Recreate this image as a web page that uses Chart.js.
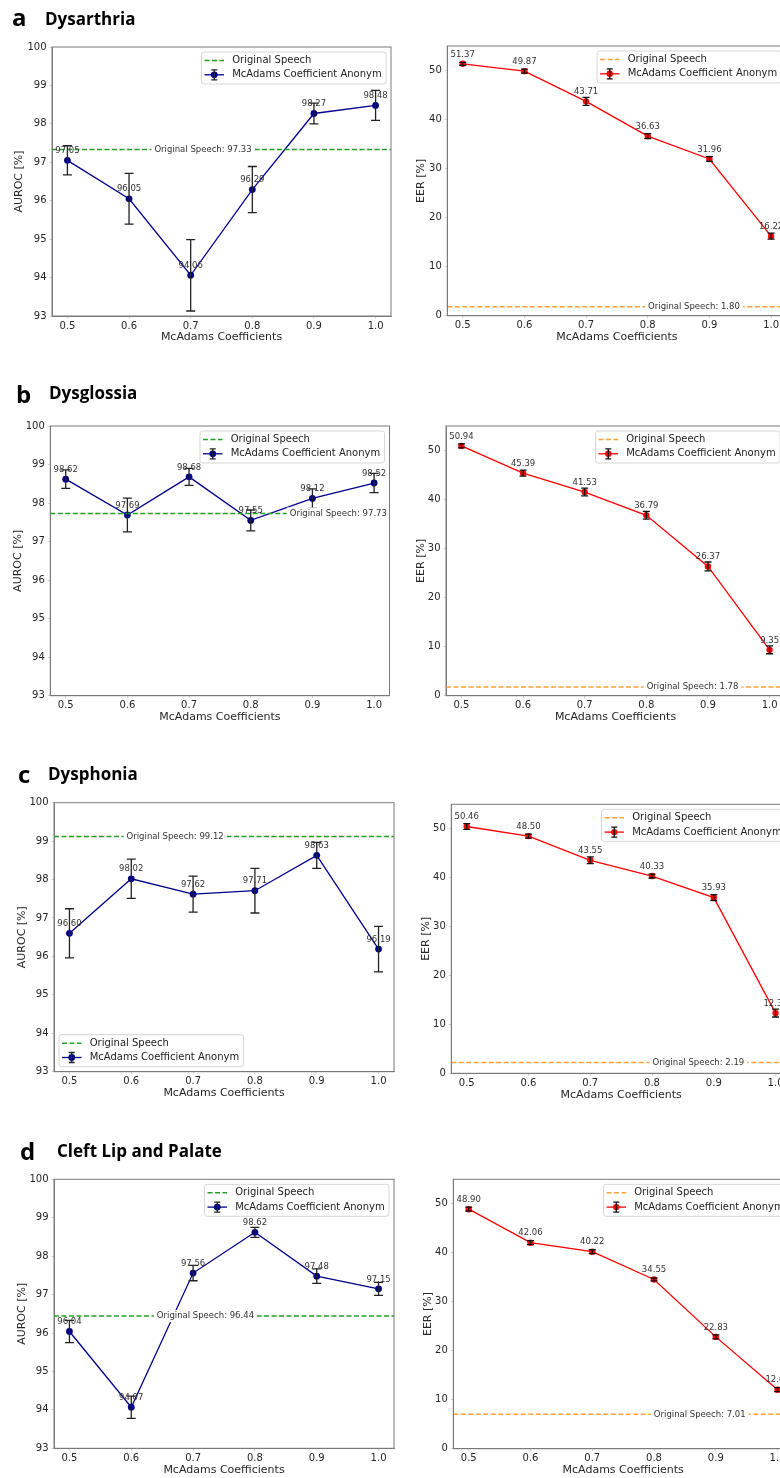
<!DOCTYPE html>
<html>
<head>
<meta charset="utf-8">
<script src="https://cdn.jsdelivr.net/npm/chart.js@4.4.1/dist/chart.umd.min.js"></script>
<style>
  html, body { margin: 0; padding: 0; background: #fff; overflow: hidden; }
  #wrap { position: relative; width: 780px; height: 1478px; overflow: hidden; background: #fff; }
  .tag { position: absolute; font-family: 'Open Sans', sans-serif; font-weight: 700; color: #000; line-height: 1; white-space: nowrap; }
  .letter { font-size: 24px; }
  .name { font-size: 17px; }
</style>
</head>
<body>
<div id="wrap">
  <div class="tag letter" style="left:12px;top:5px">a</div>
  <div class="tag name" style="left:45px;top:10px">Dysarthria</div>
  <div class="tag letter" style="left:16px;top:382px">b</div>
  <div class="tag name" style="left:49px;top:384px">Dysglossia</div>
  <div class="tag letter" style="left:18px;top:762px">c</div>
  <div class="tag name" style="left:48px;top:765px">Dysphonia</div>
  <div class="tag letter" style="left:20px;top:1139px">d</div>
  <div class="tag name" style="left:57px;top:1142px">Cleft Lip and Palate</div>
</div>
<script>
const FONT = "'DejaVu Sans', sans-serif";

// McAdams coefficients on the x axis
const coefficients = [0.5, 0.6, 0.7, 0.8, 0.9, 1.0];
const aurocTicks = [93, 94, 95, 96, 97, 98, 99, 100];
const eerTicks = [0, 10, 20, 30, 40, 50];

// Dysarthria
const dysarthriaAuroc = [97.05, 96.05, 94.06, 96.29, 98.27, 98.48];
const dysarthriaAurocErr = [0.38, 0.66, 0.93, 0.60, 0.27, 0.39];
const dysarthriaAurocOriginal = 97.33;
const dysarthriaEer = [51.37, 49.87, 43.71, 36.63, 31.96, 16.22];
const dysarthriaEerErr = [0.3, 0.4, 0.8, 0.5, 0.5, 0.6];
const dysarthriaEerOriginal = 1.80;

// Dysglossia
const dysglossiaAuroc = [98.62, 97.69, 98.68, 97.55, 98.12, 98.52];
const dysglossiaAurocErr = [0.24, 0.44, 0.22, 0.27, 0.25, 0.25];
const dysglossiaAurocOriginal = 97.73;
const dysglossiaEer = [50.94, 45.39, 41.53, 36.79, 26.37, 9.35];
const dysglossiaEerErr = [0.4, 0.6, 0.8, 0.8, 0.9, 0.8];
const dysglossiaEerOriginal = 1.78;

// Dysphonia
const dysphoniaAuroc = [96.60, 98.02, 97.62, 97.71, 98.63, 96.19];
const dysphoniaAurocErr = [0.64, 0.51, 0.47, 0.58, 0.34, 0.59];
const dysphoniaAurocOriginal = 99.12;
const dysphoniaEer = [50.46, 48.50, 43.55, 40.33, 35.93, 12.31];
const dysphoniaEerErr = [0.6, 0.4, 0.7, 0.4, 0.6, 0.8];
const dysphoniaEerOriginal = 2.19;

// Cleft lip and palate
const cleftAuroc = [96.04, 94.07, 97.56, 98.62, 97.48, 97.15];
const cleftAurocErr = [0.29, 0.29, 0.20, 0.13, 0.19, 0.17];
const cleftAurocOriginal = 96.44;
const cleftEer = [48.90, 42.06, 40.22, 34.55, 22.83, 12.05];
const cleftEerErr = [0.4, 0.4, 0.4, 0.3, 0.4, 0.4];
const cleftEerOriginal = 7.01;

const styles = {
  auroc: { title: 'AUROC [%]', min: 93, max: 100, ticks: aurocTicks, line: '#00008b', ref: '#22a022', err: '#222', cap: 4.5, radius: 3.4 },
  eer: { title: 'EER [%]', min: 0, max: 55, ticks: eerTicks, line: '#ff0000', ref: '#ffa033', err: '#111', cap: 3.5, radius: 3.2 }
};

// layout: plot area [left, top, right, bottom] in page pixels
const panels = [
  { kind: 'auroc', values: dysarthriaAuroc, errors: dysarthriaAurocErr, original: dysarthriaAurocOriginal,
    area: [52, 47, 391, 316], canvasX: 0, titleX: 19, legend: 'upper right', refX: 0.72 },
  { kind: 'eer', values: dysarthriaEer, errors: dysarthriaEerErr, original: dysarthriaEerOriginal,
    area: [447.3, 46, 786.5, 315.7], canvasX: 398, titleX: 421.3, legend: 'upper right', refX: 0.875 },
  { kind: 'auroc', values: dysglossiaAuroc, errors: dysglossiaAurocErr, original: dysglossiaAurocOriginal,
    area: [50.3, 426, 389.5, 695.7], canvasX: 0, titleX: 17.7, legend: 'upper right', refX: 0.942 },
  { kind: 'eer', values: dysglossiaEer, errors: dysglossiaEerErr, original: dysglossiaEerOriginal,
    area: [446, 426, 785, 695.7], canvasX: 398, titleX: 421, legend: 'upper right', refX: 0.875 },
  { kind: 'auroc', values: dysphoniaAuroc, errors: dysphoniaAurocErr, original: dysphoniaAurocOriginal,
    area: [54, 802.7, 394, 1071.7], canvasX: 0, titleX: 21.7, legend: 'lower left', refX: 0.671 },
  { kind: 'eer', values: dysphoniaEer, errors: dysphoniaEerErr, original: dysphoniaEerOriginal,
    area: [451.3, 804.3, 791, 1073.3], canvasX: 398, titleX: 425.7, legend: 'upper right', refX: 0.875 },
  { kind: 'auroc', values: cleftAuroc, errors: cleftAurocErr, original: cleftAurocOriginal,
    area: [54, 1179.3, 394, 1448.3], canvasX: 0, titleX: 21.7, legend: 'upper right', refX: 0.72 },
  { kind: 'eer', values: cleftEer, errors: cleftEerErr, original: cleftEerOriginal,
    area: [453.3, 1179.3, 793, 1448.7], canvasX: 398, titleX: 427.7, legend: 'upper right', refX: 0.874 }
];

// error bars, labels, frame and legend drawn on top of the datasets
function makeDecor(p, st) {
  return {
    id: 'decor',
    afterDatasetsDraw(chart) {
      const { ctx, chartArea: a, scales: { x, y } } = chart;
      const pts = chart.getDatasetMeta(1).data;
      ctx.save();

      // error bars
      ctx.strokeStyle = st.err;
      ctx.lineWidth = 1.3;
      pts.forEach((pt, i) => {
        const top = y.getPixelForValue(p.values[i] + p.errors[i]);
        const bot = y.getPixelForValue(p.values[i] - p.errors[i]);
        ctx.beginPath();
        ctx.moveTo(pt.x, top); ctx.lineTo(pt.x, bot);
        ctx.moveTo(pt.x - st.cap, top); ctx.lineTo(pt.x + st.cap, top);
        ctx.moveTo(pt.x - st.cap, bot); ctx.lineTo(pt.x + st.cap, bot);
        ctx.stroke();
      });

      // reference label on the dashed line
      ctx.font = '8.5px ' + FONT;
      ctx.textAlign = 'center';
      ctx.textBaseline = 'middle';
      const refText = 'Original Speech: ' + p.original.toFixed(2);
      const rx = x.getPixelForValue(p.refX);
      const ry = y.getPixelForValue(p.original);
      const rw = ctx.measureText(refText).width;
      ctx.fillStyle = '#fff';
      ctx.fillRect(rx - rw / 2 - 3, ry - 6, rw + 6, 12);
      ctx.fillStyle = '#333';
      ctx.fillText(refText, rx, ry);

      // value labels
      pts.forEach((pt, i) => {
        ctx.fillText(p.values[i].toFixed(2), pt.x, pt.y - 9.5);
      });

      // axes frame
      ctx.strokeStyle = '#7a7a7a';
      ctx.lineWidth = 1;
      ctx.strokeRect(a.left, a.top, a.right - a.left, a.bottom - a.top);

      // legend
      ctx.font = '10px ' + FONT;
      const labels = ['Original Speech', 'McAdams Coefficient Anonym'];
      const tw = Math.max(...labels.map(t => ctx.measureText(t).width));
      const bw = tw + 35, bh = 32;
      const bx = p.legend === 'upper right' ? a.right - 5 - bw : a.left + 5;
      const by = p.legend === 'upper right' ? a.top + 5 : a.bottom - 5 - bh;
      ctx.beginPath();
      ctx.roundRect(bx, by, bw, bh, 2.5);
      ctx.fillStyle = 'rgba(255,255,255,0.8)';
      ctx.fill();
      ctx.strokeStyle = '#d6d6d6';
      ctx.stroke();

      const r1 = by + 8.5, r2 = by + 22.8, h0 = bx + 3, h1 = bx + 22.5;
      ctx.lineWidth = 1.5;
      ctx.strokeStyle = st.ref;
      ctx.setLineDash([5, 2.5]);
      ctx.beginPath(); ctx.moveTo(h0, r1); ctx.lineTo(h1, r1); ctx.stroke();
      ctx.setLineDash([]);
      ctx.strokeStyle = st.line;
      ctx.lineWidth = 1.3;
      ctx.beginPath(); ctx.moveTo(h0, r2); ctx.lineTo(h1, r2); ctx.stroke();
      const hm = (h0 + h1) / 2;
      ctx.fillStyle = st.line;
      ctx.beginPath(); ctx.arc(hm, r2, st.radius, 0, Math.PI * 2); ctx.fill();
      ctx.strokeStyle = st.err;
      ctx.beginPath();
      ctx.moveTo(hm, r2 - 5); ctx.lineTo(hm, r2 + 5);
      ctx.moveTo(hm - 3, r2 - 5); ctx.lineTo(hm + 3, r2 - 5);
      ctx.moveTo(hm - 3, r2 + 5); ctx.lineTo(hm + 3, r2 + 5);
      ctx.stroke();

      ctx.fillStyle = '#222';
      ctx.textAlign = 'left';
      ctx.fillText(labels[0], bx + 30.7, r1);
      ctx.fillText(labels[1], bx + 30.7, r2);
      ctx.restore();
    }
  };
}

const wrap = document.getElementById('wrap');

panels.forEach(p => {
  const st = styles[p.kind];
  const [l, t, r, b] = p.area;
  const canvasY = Math.floor(t - 22);
  const canvasH = Math.ceil(b + 38 - canvasY);
  const xAxisH = canvasH - (b - canvasY);
  const yAxisW = l - p.canvasX;

  const canvas = document.createElement('canvas');
  canvas.width = 400;
  canvas.height = canvasH;
  canvas.style.cssText = `position:absolute;left:${p.canvasX}px;top:${canvasY}px;width:400px;height:${canvasH}px`;
  wrap.insertBefore(canvas, wrap.firstChild);

  const tickFont = { family: FONT, size: 10 };
  const titleFont = { family: FONT, size: 11 };
  const gridOpts = { display: true, drawOnChartArea: false, drawTicks: true, tickLength: 2.5, color: '#c8c8c8', lineWidth: 0.8 };
  const borderOpts = { display: true, color: '#7a7a7a', width: 1 };

  new Chart(canvas, {
    type: 'line',
    data: {
      datasets: [
        {
          label: 'Original Speech',
          data: [{ x: 0.475, y: p.original }, { x: 1.025, y: p.original }],
          borderColor: st.ref,
          borderWidth: 1.5,
          borderDash: [5, 2.5],
          pointRadius: 0,
          fill: false
        },
        {
          label: 'McAdams Coefficient Anonym',
          data: coefficients.map((c, i) => ({ x: c, y: p.values[i] })),
          borderColor: st.line,
          backgroundColor: st.line,
          borderWidth: 1.3,
          pointRadius: st.radius,
          pointBorderWidth: 0,
          pointBackgroundColor: st.line,
          tension: 0,
          fill: false
        }
      ]
    },
    options: {
      responsive: false,
      devicePixelRatio: 1,
      animation: false,
      events: [],
      layout: { padding: { left: 0, top: t - canvasY, right: p.canvasX + 400 - r, bottom: 0 } },
      scales: {
        x: {
          type: 'linear',
          min: 0.475,
          max: 1.025,
          afterBuildTicks: s => { s.ticks = coefficients.map(v => ({ value: v })); },
          afterFit: s => { s.height = xAxisH; },
          ticks: { callback: v => v.toFixed(1), font: tickFont, color: '#262626', padding: 1.5, maxRotation: 0, autoSkip: false },
          grid: gridOpts,
          border: borderOpts,
          title: { display: true, text: 'McAdams Coefficients', font: titleFont, color: '#262626',
                   padding: { top: 0, bottom: xAxisH - 21.5 - 6.6 } }
        },
        y: {
          min: st.min,
          max: st.max,
          afterBuildTicks: s => { s.ticks = st.ticks.map(v => ({ value: v })); },
          afterFit: s => { s.width = yAxisW; },
          ticks: { callback: v => String(v), font: tickFont, color: '#262626', padding: 3 },
          grid: gridOpts,
          border: borderOpts,
          title: { display: true, text: st.title, font: titleFont, color: '#262626',
                   padding: { top: p.titleX - p.canvasX - 6.6, bottom: 0 } }
        }
      },
      plugins: {
        legend: { display: false },
        tooltip: { enabled: false }
      }
    },
    plugins: [makeDecor(p, st)]
  });
});
</script>
</body>
</html>
